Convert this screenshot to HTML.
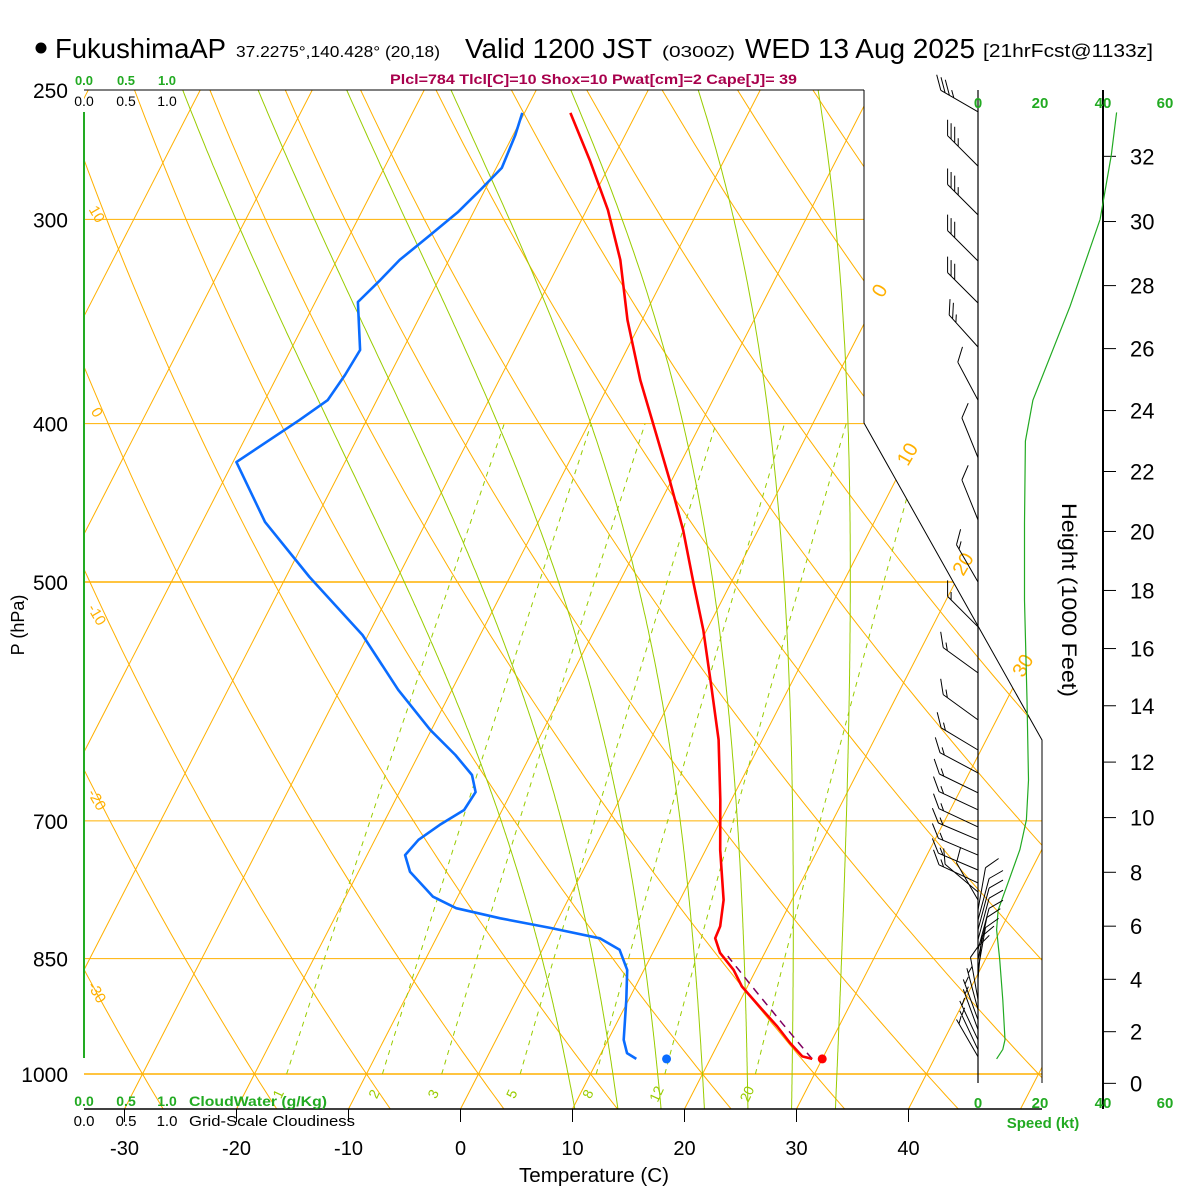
<!DOCTYPE html>
<html>
<head>
<meta charset="utf-8">
<style>
body{margin:0;background:#fff}
svg{display:block;font-family:"Liberation Sans",sans-serif}
</style>
</head>
<body>
<svg id="chart" width="1200" height="1200" viewBox="0 0 1200 1200">
<defs>
<clipPath id="plotclip"><polygon points="84,90 864,90 864,423 1042,740 1042,1109 84,1109"/></clipPath>
</defs>
<rect x="0" y="0" width="1200" height="1200" fill="#fff"/>

<g>
<circle cx="41" cy="48" r="5.5" fill="#000"/>
<text x="55" y="58" font-size="28" textLength="171" lengthAdjust="spacingAndGlyphs">FukushimaAP</text>
<text x="236" y="57" font-size="16" textLength="204" lengthAdjust="spacingAndGlyphs">37.2275°,140.428° (20,18)</text>
<text x="465" y="58" font-size="28" textLength="187" lengthAdjust="spacingAndGlyphs">Valid 1200 JST</text>
<text x="662" y="57" font-size="16" textLength="73" lengthAdjust="spacingAndGlyphs">(0300Z)</text>
<text x="745" y="58" font-size="28" textLength="230" lengthAdjust="spacingAndGlyphs">WED 13 Aug 2025</text>
<text x="983" y="57" font-size="18" textLength="170" lengthAdjust="spacingAndGlyphs">[21hrFcst@1133z]</text>
</g>
<text x="390" y="84" font-size="14" font-weight="bold" fill="#a8004c" textLength="407" lengthAdjust="spacingAndGlyphs">Plcl=784 Tlcl[C]=10 Shox=10 Pwat[cm]=2 Cape[J]= 39</text>

<g id="bg" clip-path="url(#plotclip)"></g>
<g id="labels"></g>
<g id="frame">
<line x1="84" y1="90" x2="864" y2="90" stroke="#000" stroke-width="1"/>
<polyline points="864,90 864,423 1042,740 1042,1083" fill="none" stroke="#000" stroke-width="1"/>
<line x1="84" y1="1109" x2="1042" y2="1109" stroke="#000" stroke-width="1.5"/>
<line x1="84" y1="112" x2="84" y2="1058" stroke="#22aa22" stroke-width="2"/>
<line x1="978" y1="90" x2="978" y2="1083" stroke="#000" stroke-width="1.2"/>
<line x1="1103" y1="90" x2="1103" y2="1109" stroke="#000" stroke-width="2"/>
</g>

<g font-weight="bold" font-size="13" fill="#22aa22" text-anchor="middle">
<text x="84" y="85">0.0</text><text x="126" y="85">0.5</text><text x="167" y="85">1.0</text>
</g>
<g font-size="14" fill="#000" text-anchor="middle">
<text x="84" y="106">0.0</text><text x="126" y="106">0.5</text><text x="167" y="106">1.0</text>
</g>
<g font-weight="bold" font-size="14" fill="#22aa22">
<text x="84" y="1106" text-anchor="middle">0.0</text><text x="126" y="1106" text-anchor="middle">0.5</text><text x="167" y="1106" text-anchor="middle">1.0</text>
<text x="189" y="1106" textLength="138" lengthAdjust="spacingAndGlyphs">CloudWater (g/Kg)</text>
</g>
<g font-size="15" fill="#000">
<text x="84" y="1126" text-anchor="middle">0.0</text><text x="126" y="1126" text-anchor="middle">0.5</text><text x="167" y="1126" text-anchor="middle">1.0</text>
<text x="189" y="1126" textLength="166" lengthAdjust="spacingAndGlyphs">Grid-Scale Cloudiness</text>
</g>
<text x="594" y="1182" font-size="20" text-anchor="middle" textLength="150" lengthAdjust="spacingAndGlyphs">Temperature (C)</text>
<text x="0" y="0" font-size="18" text-anchor="middle" transform="translate(24,625) rotate(-90)">P (hPa)</text>
<text x="0" y="0" font-size="21" text-anchor="middle" transform="translate(1062,600) rotate(90)" textLength="194" lengthAdjust="spacingAndGlyphs">Height (1000 Feet)</text>
<g font-weight="bold" font-size="15" fill="#22aa22" text-anchor="middle">
<text x="978" y="108">0</text><text x="1040" y="108">20</text><text x="1103" y="108">40</text><text x="1165" y="108">60</text>
</g>
<g font-weight="bold" font-size="15" fill="#22aa22" text-anchor="middle">
<text x="978" y="1108">0</text><text x="1040" y="1108">20</text><text x="1103" y="1108">40</text><text x="1165" y="1108">60</text>
</g>
<text x="1043" y="1128" font-weight="bold" font-size="15" fill="#22aa22" text-anchor="middle">Speed (kt)</text>

<g id="axes"></g>
<g id="data"></g>
</svg>

<script>
const pressureTicks = [250, 300, 400, 500, 700, 850, 1000];
const tempTicks = [-30, -20, -10, 0, 10, 20, 30, 40];
const heightTicks = [0, 2, 4, 6, 8, 10, 12, 14, 16, 18, 20, 22, 24, 26, 28, 30, 32];
const dryAdiabats = [-40,-30,-20,-10,0,10,20,30,40,50,60,70,80,90,100,110,120,130,140,150,160,170,180,190,200];
const isotherms = [-130,-120,-110,-100,-90,-80,-70,-60,-50,-40,-30,-20,-10,0,10,20,30,40,50];
const moistAdiabats = [8, 12, 16, 20, 24, 28, 32];
const mixingRatios = [1, 2, 3, 5, 8, 12, 20];
const dryLabelVals = [10, 0, -10, -20, -30];
const dryLabelP = [298, 394, 524, 680, 892];
const isoLabelVals = [0, 10, 20, 30];
const isoLabelP = [332, 418, 488, 563];

const tempP = [258.2,276,296,317.6,345.7,376.2,403.6,433,464.6,500,535,582,624.5,679.5,729.4,782.6,812,825.9,843,863.6,884,909.4,935.3,957.3,975.5,979];
const tempT = [-35.9,-32.0,-28.1,-24.7,-21.3,-17.4,-13.8,-10.2,-6.7,-3.4,-0.3,3.2,6.1,9.0,11.3,13.9,14.8,14.9,16.0,18.0,19.5,22.0,24.5,26.4,28.1,29.1];
const dewP = [258.2,266.4,279,287.8,297,306.6,317.6,326.7,337,360.6,373.5,387,398,422.3,459.4,496.5,538.8,582,615.8,638,656.2,672.2,689.4,704,719,734.6,752,779,791.7,803,814,826,839.5,863.6,900.9,953,971,979];
const dewT = [-40.2,-39.8,-39.5,-40.4,-41.4,-42.8,-44.4,-45.2,-46.2,-43.8,-44.0,-44.4,-46.0,-49.7,-44.4,-37.9,-30.5,-24.8,-20.1,-16.7,-14.3,-13.2,-13.4,-14.9,-16.1,-16.6,-15.4,-12.2,-9.6,-5.2,-0.3,4.6,6.9,8.5,9.8,11.4,12.3,13.4];
const surfaceP = 979;
const surfaceT = 30.0;
const surfaceTd = 16.1;
const parcelTopP = 845;

const speedP = [258,274,300,339,387,410,460,513,590,661,699,729,761,794,816,851,901,953,966,979];
const speedKt = [44.7,43,39.4,29.7,17.7,15.3,15,15,15.8,16.3,15.6,13.5,10,6.5,6,7,8,8.7,8,6];

const barbP = [257.8,278.3,298.1,318.1,337.5,359.1,387,419.7,458.1,500,532.6,568.3,607.2,633.5,654.3,672.9,689.2,706,719,734.6,750.2,764,773.8,782.6,793.7,805,816,827.6,839.5,851,863.6,875,888,900.6,913.5,926.5,939.5,953,966.4,976];
const barbDir = [300,315,315,315,315,318,332,338,338,330,315,306,306,301,298,296,295,295,293,293,293,295,310,330,10,15,15,15,15,12,10,5,0,350,345,340,340,335,335,330];
const barbSpd = [35,35,35,30,30,25,10,10,10,15,15,15,15,15,15,15,15,15,15,15,15,15,10,10,10,10,10,10,10,10,10,10,10,10,5,5,5,5,5,5];

const LN4 = Math.log(4);
function Y(p){ return 90 + 984*Math.log(p/250)/LN4; }
function X(T,p){ return 460.5 + 11.2*T + 0.514*(1109 - Y(p)); }
function spdX(s){ return 978 + 3.1*s; }
function ftToP(kft){ const z = kft*1000*0.3048; return 1013.25*Math.pow(1 - 2.25577e-5*z, 5.25588); }

const NS = "http://www.w3.org/2000/svg";
const bg = document.getElementById('bg');
const labels = document.getElementById('labels');
const axes = document.getElementById('axes');
const dataG = document.getElementById('data');

function mk(tag, parent){ const e = document.createElementNS(NS, tag); parent.appendChild(e); return e; }
function ptsToD(pts){ return pts.map((q,i)=>(i?'L':'M')+q[0].toFixed(1)+','+q[1].toFixed(1)).join(''); }

const ORANGE = '#ffb000';
const GREEN = '#99cc00';

pressureTicks.forEach(p=>{
  if(p===250) return;
  const l = mk('line', bg);
  
  
  l.setAttribute('x1', 84); l.setAttribute('x2', 1042);
  l.setAttribute('y1', Y(p)); l.setAttribute('y2', Y(p));
  l.setAttribute('stroke', ORANGE);
  l.setAttribute('stroke-width', (p===500||p===1000)?1.6:1);
});

isotherms.forEach(T=>{
  const l = mk('line', bg);
  
  
  l.setAttribute('x1', X(T,1050)); l.setAttribute('y1', Y(1050));
  l.setAttribute('x2', X(T,240)); l.setAttribute('y2', Y(240));
  l.setAttribute('stroke', ORANGE); l.setAttribute('stroke-width', 1);
});

dryAdiabats.forEach(th=>{
  const thK = th + 273.15; const pts = [];
  for(let p=1060; p>=240; p-=10){ pts.push([X(thK*Math.pow(p/1000,0.2857)-273.15,p), Y(p)]); }
  const e = mk('path', bg);
  
  
  e.setAttribute('d', ptsToD(pts));
  e.setAttribute('fill', 'none'); e.setAttribute('stroke', ORANGE); e.setAttribute('stroke-width', 1);
});

function es(Tc){ return 6.112*Math.exp(17.67*Tc/(Tc+243.5)); }
function dTdp(TK,p){
  const e = es(TK-273.15); const rs = 0.622*e/(p-e);
  const Lv=2.5e6, Rd=287, Cp=1004;
  return (Rd*TK + Lv*rs)/(p*(Cp + Lv*Lv*rs*0.622/(Rd*TK*TK)));
}
moistAdiabats.forEach(T0=>{
  const up=[]; let T=T0+273.15;
  for(let p=1000; p>=240; p-=2){ up.push([X(T-273.15,p),Y(p)]); T -= 2*dTdp(T,p); }
  const down=[]; T=T0+273.15;
  for(let p=1000; p<=1060; p+=2){ down.push([X(T-273.15,p),Y(p)]); T += 2*dTdp(T,p); }
  const pts = down.reverse().concat(up);
  const e = mk('path', bg);
  
  
  e.setAttribute('d', ptsToD(pts));
  e.setAttribute('fill', 'none'); e.setAttribute('stroke', GREEN); e.setAttribute('stroke-width', 1);
});

function tdFromW(w,p){ const e = w*p/(622+w); const a=Math.log(e/6.112); return 243.5*a/(17.67-a); }
mixingRatios.forEach(w=>{
  const pts=[];
  for(let p=1000; p>=400; p-=10){ pts.push([X(tdFromW(w,p),p),Y(p)]); }
  const e = mk('path', bg);
  
  
  e.setAttribute('d', ptsToD(pts));
  e.setAttribute('fill', 'none'); e.setAttribute('stroke', GREEN); e.setAttribute('stroke-width', 1);
  e.setAttribute('stroke-dasharray', '5,5');
  const t = mk('text', labels);
  
  
  const lx = X(tdFromW(w,1000),1000) - 4;
  t.setAttribute('transform', 'translate(' + lx + ',1096) rotate(-65)');
  t.setAttribute('font-size', 14); t.setAttribute('fill', GREEN); t.setAttribute('text-anchor', 'middle');
  t.textContent = String(w);
});

dryLabelVals.forEach((v,i)=>{
  const t = mk('text', labels);
  
  
  t.setAttribute('transform', 'translate(96,' + Y(dryLabelP[i]) + ') rotate(60)');
  t.setAttribute('font-size', 15); t.setAttribute('fill', ORANGE); t.setAttribute('text-anchor', 'middle');
  t.setAttribute('dominant-baseline', 'middle');
  t.textContent = String(v);
});
isoLabelVals.forEach((v,i)=>{
  const t = mk('text', labels);
  
  
  const p = isoLabelP[i];
  t.setAttribute('transform', 'translate(' + X(v,p) + ',' + Y(p) + ') rotate(-60)');
  t.setAttribute('font-size', 20); t.setAttribute('fill', ORANGE); t.setAttribute('text-anchor', 'middle');
  t.setAttribute('dominant-baseline', 'middle');
  t.textContent = String(v);
});

pressureTicks.forEach(p=>{
  const t = mk('text', axes);
  
  
  t.setAttribute('x', 68); t.setAttribute('y', Y(p)+8);
  t.setAttribute('font-size', 21); t.setAttribute('text-anchor', 'end');
  t.textContent = String(p);
});
tempTicks.forEach(T=>{
  const x = 460.5 + 11.2*T;
  const l = mk('line', axes);
  
  
  l.setAttribute('x1', x); l.setAttribute('x2', x); l.setAttribute('y1', 1109); l.setAttribute('y2', 1122);
  l.setAttribute('stroke', '#000'); l.setAttribute('stroke-width', 1);
  const t = mk('text', axes);
  
  
  t.setAttribute('x', x); t.setAttribute('y', 1155);
  t.setAttribute('font-size', 20); t.setAttribute('text-anchor', 'middle');
  t.textContent = String(T);
});
heightTicks.forEach(h=>{
  const y = Y(ftToP(h));
  const l = mk('line', axes);
  
  
  l.setAttribute('x1', 1103); l.setAttribute('x2', 1116); l.setAttribute('y1', y); l.setAttribute('y2', y);
  l.setAttribute('stroke', '#000'); l.setAttribute('stroke-width', 1);
  const t = mk('text', axes);
  
  
  t.setAttribute('x', 1130); t.setAttribute('y', y+8);
  t.setAttribute('font-size', 22);
  t.textContent = String(h);
});

{
  const pts = speedP.map((p,i)=>[spdX(speedKt[i]), Y(p)]);
  const e = mk('path', dataG);
  
  
  e.setAttribute('d', ptsToD(pts));
  e.setAttribute('fill', 'none'); e.setAttribute('stroke', '#22aa22'); e.setAttribute('stroke-width', 1.2);
}

barbP.forEach((p,i)=>{
  const th = barbDir[i]*Math.PI/180, spd = barbSpd[i];
  const x0 = 978, y0 = Y(p);
  const ux = Math.sin(th), uy = -Math.cos(th);
  const px = -uy, py = ux;
  const ca = Math.cos(45*Math.PI/180), sa = Math.sin(45*Math.PI/180);
  const fx = ux*ca + px*sa, fy = uy*ca + py*sa;
  const L = 43;
  let d = 'M' + x0 + ',' + y0.toFixed(1) + 'L' + (x0+ux*L).toFixed(1) + ',' + (y0+uy*L).toFixed(1);
  const n10 = Math.floor(spd/10), half = (spd%10)>=5;
  let pos = L;
  for(let k=0;k<n10;k++){
    const bx = x0+ux*pos, by = y0+uy*pos;
    d += 'M' + bx.toFixed(1) + ',' + by.toFixed(1) + 'l' + (fx*16).toFixed(1) + ',' + (fy*16).toFixed(1);
    pos -= 5;
  }
  if(half){
    if(n10===0) pos -= 5;
    const bx = x0+ux*pos, by = y0+uy*pos;
    d += 'M' + bx.toFixed(1) + ',' + by.toFixed(1) + 'l' + (fx*8).toFixed(1) + ',' + (fy*8).toFixed(1);
  }
  const e = mk('path', dataG);
  
  
  e.setAttribute('d', d);
  e.setAttribute('fill', 'none'); e.setAttribute('stroke', '#000'); e.setAttribute('stroke-width', 1);
});

{
  const pts = dewP.map((p,i)=>[X(dewT[i],p), Y(p)]);
  const e = mk('path', dataG);
  
  
  e.setAttribute('d', ptsToD(pts));
  e.setAttribute('fill', 'none'); e.setAttribute('stroke', '#0a6cff'); e.setAttribute('stroke-width', 2.6);
  e.setAttribute('stroke-linejoin', 'round');
}
{
  const last = tempT[tempT.length-1];
  const thK = (last+273.15)*Math.pow(1000/surfaceP,0.2857);
  const pts=[];
  for(let p=surfaceP; p>=parcelTopP; p-=4){ pts.push([X(thK*Math.pow(p/1000,0.2857)-273.15,p), Y(p)]); }
  const e = mk('path', dataG);
  
  
  e.setAttribute('d', ptsToD(pts));
  e.setAttribute('fill', 'none'); e.setAttribute('stroke', '#800060'); e.setAttribute('stroke-width', 1.5);
  e.setAttribute('stroke-dasharray', '8,6');
}
{
  const pts = tempP.map((p,i)=>[X(tempT[i],p), Y(p)]);
  const e = mk('path', dataG);
  
  
  e.setAttribute('d', ptsToD(pts));
  e.setAttribute('fill', 'none'); e.setAttribute('stroke', '#ff0000'); e.setAttribute('stroke-width', 2.6);
  e.setAttribute('stroke-linejoin', 'round');
}
{
  const c1 = mk('circle', dataG);
  
  
  c1.setAttribute('cx', X(surfaceT,surfaceP)); c1.setAttribute('cy', Y(surfaceP)); c1.setAttribute('r', 4.5);
  c1.setAttribute('fill', '#ff0000');
  const c2 = mk('circle', dataG);
  
  
  c2.setAttribute('cx', X(surfaceTd,surfaceP)); c2.setAttribute('cy', Y(surfaceP)); c2.setAttribute('r', 4.5);
  c2.setAttribute('fill', '#0a6cff');
}
</script>
</body>
</html>
